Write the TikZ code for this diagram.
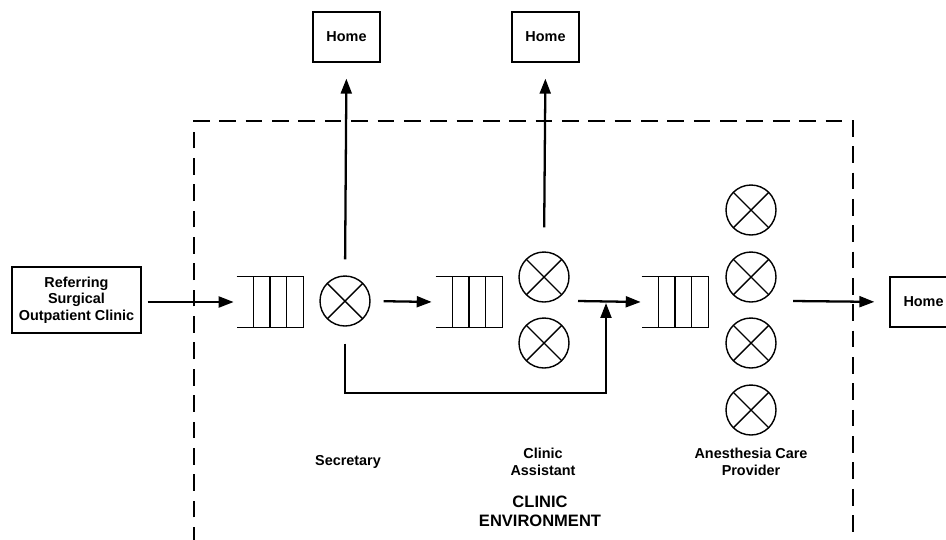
\documentclass[tikz,border=0pt]{standalone}
\usepackage{fontspec}
\setmainfont{Liberation Sans}
\usetikzlibrary{arrows.meta,calc}

\tikzset{
	box/.style={draw, line width=0.75pt, inner sep=0pt, align=center, font=\fontsize{8.2}{9.4}\selectfont\bfseries},
	server/.style={circle, draw, line width=0.8pt, minimum size=1cm, inner sep=0pt,
		path picture={\draw[line width=0.8pt] (path picture bounding box.north west) -- (path picture bounding box.south east)
			(path picture bounding box.north east) -- (path picture bounding box.south west);}},
	queue/.style={minimum width=1.32cm, minimum height=1cm, inner sep=0pt},
	flow/.style={line width=1.3pt, -{Triangle[length=8.5pt,width=6.2pt]}},
	lbl/.style={align=center, font=\fontsize{8.2}{9.6}\selectfont\bfseries}
}

\begin{document}
\begin{tikzpicture}[x=0.02cm, y=-0.02cm]
		\useasboundingbox (0,0) rectangle (946,539);

		% Clinic boundary
		\draw[line width=0.75pt, dash pattern=on 9.5pt off 5.5pt] (194,570) -- (194,121) -- (853,121) -- (853,570);

		% Outside
		\node[box, minimum width=2.58cm, minimum height=1.32cm] (ref) at (76.5,300) {Referring\\Surgical\\Outpatient Clinic};
		\node[box, minimum width=1.34cm, minimum height=1cm] (home1) at (346.5,37) {Home};
		\node[box, minimum width=1.34cm, minimum height=1cm] (home2) at (545.5,37) {Home};
		\node[box, minimum width=1.34cm, minimum height=1cm] (home3) at (923.5,302) {Home};

		% Queues
		\node[queue] (q1) at (270,302) {};
		\node[queue] (q2) at (469,302) {};
		\node[queue] (q3) at (675,302) {};
		\foreach \q in {q1,q2,q3} {
			\draw[line width=0.8pt] (\q.north west) -- (\q.north east) -- (\q.south east) -- (\q.south west);
			\foreach \i in {1,2,3}
				\draw[line width=0.8pt] ($(\q.north west)!\i/4!(\q.north east)$) -- ($(\q.south west)!\i/4!(\q.south east)$);
		}

		% Servers
		\node[server] (s1) at (345,301) {};
		\node[server] (s2a) at (544,277) {};
		\node[server] (s2b) at (544,343) {};
		\node[server] (s3a) at (751,210) {};
		\node[server] (s3b) at (751,277) {};
		\node[server] (s3c) at (751,343) {};
		\node[server] (s3d) at (751,410) {};

		\coordinate (s2out) at (578,301);
		\coordinate (join) at (606,301);
		\coordinate (bypass) at (606,393);
		\coordinate (s3out) at (793,301);

		% Flows
		\draw[flow, shorten <=0.12cm, shorten >=0.06cm] (ref.east |- q1.west) -- (q1.west);
		\draw[flow, shorten <=0.32cm, shorten >=0.32cm] (s1.north) -- (home1.south);
		\draw[flow, shorten <=0.26cm, shorten >=0.08cm] (s1.east) -- (q2.west);
		\draw[flow, shorten >=0.02cm] (s2out) -- (q3.west);
		\draw[flow, shorten <=0.48cm, shorten >=0.32cm] (s2a.north) -- (home2.south);
		\draw[flow, shorten <=0.34cm, shorten >=0.04cm] (s1.south) |- (bypass) -- (join);
		\draw[flow, shorten >=0.3cm] (s3out) -- (home3.west);

		% Labels
		\node[lbl] (sec) at (348,462) {Secretary};
		\node[lbl] (ca) at (543,462) {Clinic\\Assistant};
		\node[lbl] (acp) at (751,462) {Anesthesia Care\\Provider};
		\node[align=center, font=\fontsize{9.4}{10.8}\selectfont\bfseries] (env) at (540,511) {CLINIC\\ENVIRONMENT};
	\end{tikzpicture}
\end{document}
